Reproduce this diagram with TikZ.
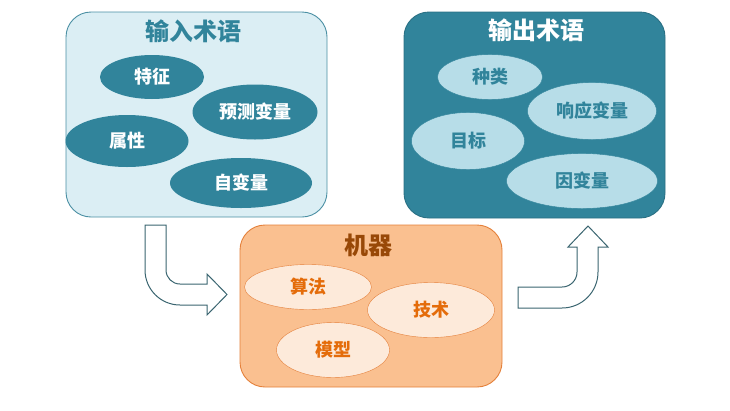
\documentclass[tikz,border=0pt]{standalone}
\usepackage{fontspec}
\setmainfont{Noto Sans CJK SC}
\usetikzlibrary{shapes.geometric}

\definecolor{tealdark}{HTML}{31849B}
\definecolor{tealline}{HTML}{4A8FA3}
\definecolor{teallight}{HTML}{DBEEF4}
\definecolor{tealpale}{HTML}{B7DDE8}
\definecolor{orangebox}{HTML}{FAC090}
\definecolor{orangeline}{HTML}{E4803A}
\definecolor{orangepale}{HTML}{FDEADA}
\definecolor{orangetext}{HTML}{E46C0A}
\definecolor{browntext}{HTML}{984807}
\definecolor{arrowline}{HTML}{3A6570}

\tikzset{
    termbox/.style={rectangle, rounded corners=25pt, line width=0.9pt, inner sep=0pt},
    boxtitle/.style={font=\bfseries\fontsize{24}{27}\selectfont},
    term/.style={ellipse, inner sep=0pt, font=\bfseries\fontsize{18}{21}\selectfont},
    blockarrow/.style={draw=arrowline, fill=white, line width=1pt, line join=miter}
}

\begin{document}
\begin{tikzpicture}[x=1pt,y=-1pt]
    \useasboundingbox (0,0) rectangle (730,410);

    % Input terms
    \node[termbox, draw=tealline, fill=teallight, minimum width=261pt, minimum height=205pt] (input) at (196.5,114.5) {};
    \node[boxtitle, text=tealdark] (inputtitle) at (193,31) {输入术语};
    \node[term, fill=tealdark, text=white, minimum width=104pt, minimum height=44pt] (feature) at (152,77) {特征};
    \node[term, fill=tealdark, text=white, minimum width=125pt, minimum height=55pt] (predictor) at (255,112) {预测变量};
    \node[term, fill=tealdark, text=white, minimum width=123pt, minimum height=52pt] (attribute) at (127,141) {属性};
    \node[term, fill=tealdark, text=white, minimum width=142pt, minimum height=50pt] (independent) at (241,183) {自变量};

    % Output terms
    \node[termbox, draw=tealdark!85!black, fill=tealdark, minimum width=261pt, minimum height=206pt] (output) at (534.5,115) {};
    \node[boxtitle, text=white] (outputtitle) at (536,30) {输出术语};
    \node[term, draw=tealdark, fill=tealpale, text=tealdark, minimum width=105pt, minimum height=45pt] (category) at (490,77) {种类};
    \node[term, draw=tealdark, fill=tealpale, text=tealdark, minimum width=129pt, minimum height=57pt] (response) at (592,111) {响应变量};
    \node[term, draw=tealdark, fill=tealpale, text=tealdark, minimum width=113pt, minimum height=57pt] (target) at (468,141) {目标};
    \node[term, draw=tealdark, fill=tealpale, text=tealdark, minimum width=151pt, minimum height=55pt] (dependent) at (582,181) {因变量};

    % Machine
    \node[termbox, draw=orangeline, fill=orangebox, minimum width=262pt, minimum height=162pt] (machine) at (371,306) {};
    \node[boxtitle, text=browntext] (machinetitle) at (368,245) {机器};
    \node[term, draw=orangeline, fill=orangepale, text=orangetext, minimum width=127pt, minimum height=45pt] (algorithm) at (308,287) {算法};
    \node[term, draw=orangeline, fill=orangepale, text=orangetext, minimum width=127pt, minimum height=55pt] (technique) at (431,310) {技术};
    \node[term, draw=orangeline, fill=orangepale, text=orangetext, minimum width=113pt, minimum height=55pt] (model) at (333,350) {模型};

    % Arrows
    \draw[blockarrow] (145,225) -- (145,270) arc[start angle=180, end angle=90, radius=35]
        -- (207,305) -- (207,315) -- (227,294.5) -- (207,274) -- (207,284) -- (180,284)
        arc[start angle=90, end angle=180, radius=14] -- (166,225) -- cycle;
    \draw[blockarrow] (518,287) -- (562,287) arc[start angle=90, end angle=0, radius=15]
        -- (577,247) -- (568,247) -- (588,226) -- (608,247) -- (598,247) -- (598,272)
        arc[start angle=0, end angle=90, radius=36] -- (518,308) -- cycle;
\end{tikzpicture}
\end{document}
